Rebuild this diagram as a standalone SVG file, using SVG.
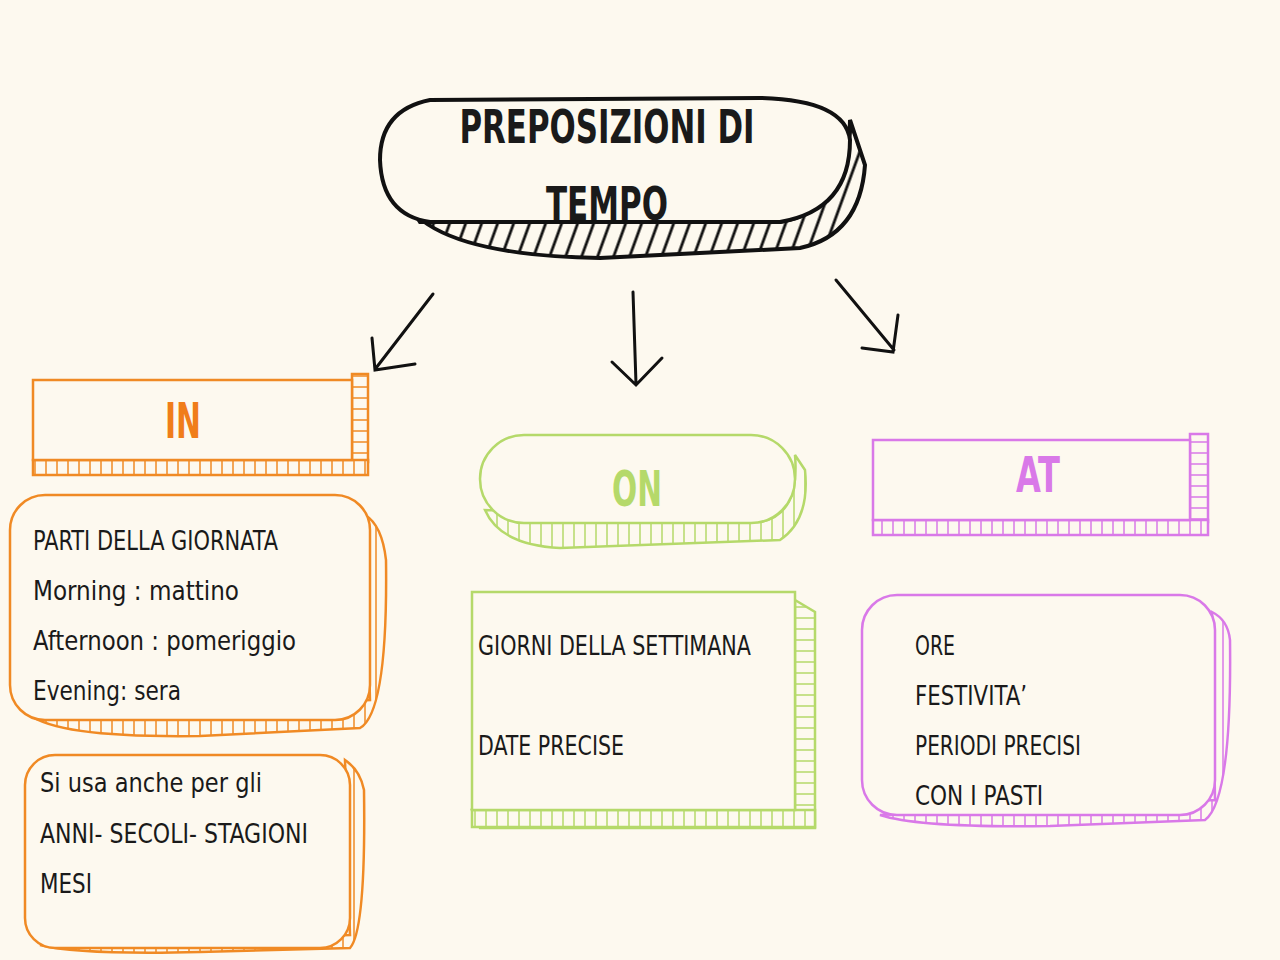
<svg xmlns="http://www.w3.org/2000/svg" width="1280" height="960" viewBox="0 0 1280 960">
<style>
.t{font-family:"DejaVu Sans Condensed","DejaVu Sans",sans-serif}
.k{fill:#1a1a1a;font-size:27px}
.h{font-weight:bold}
.o{stroke:#f08a24;stroke-width:2.5}
.g{stroke:#b5d96a;stroke-width:2.5}
.m{stroke:#d979e8;stroke-width:2.5}
.b{stroke:#111;stroke-width:4}
.a{stroke:#111;fill:none;stroke-width:3;stroke-linecap:round}
</style>
<defs>
<pattern id="hk" width="16" height="10" patternUnits="userSpaceOnUse" patternTransform="skewX(-20)"><rect width="16" height="10" fill="#fdf9ef"/><line x1="3" y1="0" x2="3" y2="10" stroke="#111" stroke-width="3"/></pattern>
<pattern id="ho" width="11" height="10" patternUnits="userSpaceOnUse"><rect width="11" height="10" fill="#fdf9ef"/><line x1="2" y1="0" x2="2" y2="10" stroke="#f08a24" stroke-width="1.5"/></pattern>
<pattern id="hg" width="11" height="10" patternUnits="userSpaceOnUse"><rect width="11" height="10" fill="#fdf9ef"/><line x1="2" y1="0" x2="2" y2="10" stroke="#b5d96a" stroke-width="1.5"/></pattern>
<pattern id="hm" width="11" height="10" patternUnits="userSpaceOnUse"><rect width="11" height="10" fill="#fdf9ef"/><line x1="2" y1="0" x2="2" y2="10" stroke="#d979e8" stroke-width="1.5"/></pattern>
<pattern id="hov" width="10" height="11" patternUnits="userSpaceOnUse"><rect width="10" height="11" fill="#fdf9ef"/><line x1="0" y1="2" x2="10" y2="2" stroke="#f08a24" stroke-width="1.5"/></pattern>
<pattern id="hgv" width="10" height="11" patternUnits="userSpaceOnUse"><rect width="10" height="11" fill="#fdf9ef"/><line x1="0" y1="2" x2="10" y2="2" stroke="#b5d96a" stroke-width="1.5"/></pattern>
<pattern id="hmv" width="10" height="11" patternUnits="userSpaceOnUse"><rect width="10" height="11" fill="#fdf9ef"/><line x1="0" y1="2" x2="10" y2="2" stroke="#d979e8" stroke-width="1.5"/></pattern>
</defs>
<rect width="1280" height="960" fill="#fdf9ef"/>
<g id="title">
<path d="M400 190 Q420 255 600 258 L800 248 Q860 235 865 165 L850 120 Q850 210 780 222 L420 222 Z" fill="url(#hk)" class="b"/>
<path d="M430 100 Q380 110 380 160 Q382 215 430 222 L780 222 Q850 210 850 140 Q845 100 760 98 Z" fill="#fdf9ef" class="b"/>
<text class="t h" x="607" y="143" text-anchor="middle" style="font-size:46px;fill:#1a1a1a" textLength="295" lengthAdjust="spacingAndGlyphs">PREPOSIZIONI DI</text>
<text class="t h" x="607" y="220" text-anchor="middle" style="font-size:46px;fill:#1a1a1a" textLength="122" lengthAdjust="spacingAndGlyphs">TEMPO</text>
</g>
<g id="connectors">
<path class="a" d="M433 294 L376 368 M372 338 L375 370 L415 364"/>
<path class="a" d="M633 292 L636 384 M612 362 L636 385 L662 358"/>
<path class="a" d="M836 280 L894 350 M898 315 L893 352 L862 348"/>
</g>
<g id="in">
<rect x="352" y="374" width="16" height="88" fill="url(#hov)" class="o"/>
<rect x="33" y="460" width="335" height="15" fill="url(#ho)" class="o"/>
<rect x="33" y="380" width="319" height="80" fill="#fdf9ef" class="o"/>
<text class="t h" x="183" y="438" text-anchor="middle" style="font-size:50px;fill:#f07d1a" textLength="36" lengthAdjust="spacingAndGlyphs">IN</text>
</g>
<g id="on">
<path d="M485 510 Q500 545 560 548 L780 540 Q810 520 805 470 L795 455 Q800 515 760 522 Z" fill="url(#hg)" class="g"/>
<rect x="480" y="435" width="315" height="88" rx="44" fill="#fdf9ef" class="g"/>
<text class="t h" x="637" y="506" text-anchor="middle" style="font-size:50px;fill:#b5d96a" textLength="50" lengthAdjust="spacingAndGlyphs">ON</text>
</g>
<g id="at">
<rect x="1190" y="434" width="18" height="88" fill="url(#hmv)" class="m"/>
<rect x="873" y="520" width="335" height="15" fill="url(#hm)" class="m"/>
<rect x="873" y="440" width="317" height="80" fill="#fdf9ef" class="m"/>
<text class="t h" x="1038" y="492" text-anchor="middle" style="font-size:50px;fill:#d979e8" textLength="44" lengthAdjust="spacingAndGlyphs">AT</text>
</g>
<g id="in-list">
<path d="M30 715 Q60 738 200 736 L360 728 Q388 712 386 560 Q382 525 365 515 L370 700 Z" fill="url(#ho)" class="o"/>
<rect x="10" y="495" width="360" height="225" rx="35" fill="#fdf9ef" class="o"/>
<text class="t k" x="33" y="550" textLength="245" lengthAdjust="spacingAndGlyphs">PARTI DELLA GIORNATA</text>
<text class="t k" x="33" y="600" textLength="206" lengthAdjust="spacingAndGlyphs">Morning : mattino</text>
<text class="t k" x="33" y="650" textLength="263" lengthAdjust="spacingAndGlyphs">Afternoon : pomeriggio</text>
<text class="t k" x="33" y="700" textLength="148" lengthAdjust="spacingAndGlyphs">Evening: sera</text>
</g>
<g id="in-extra">
<path d="M40 945 Q80 955 200 952 L350 948 Q366 930 364 790 Q360 770 345 760 L350 935 Z" fill="url(#ho)" class="o"/>
<rect x="25" y="755" width="325" height="193" rx="30" fill="#fdf9ef" class="o"/>
<text class="t k" x="40" y="792" textLength="222" lengthAdjust="spacingAndGlyphs">Si usa anche per gli</text>
<text class="t k" x="40" y="843" textLength="268" lengthAdjust="spacingAndGlyphs">ANNI- SECOLI- STAGIONI</text>
<text class="t k" x="40" y="893" textLength="52" lengthAdjust="spacingAndGlyphs">MESI</text>
</g>
<g id="on-list">
<path d="M795 600 L815 612 L815 828 L480 828 L472 810 L795 810 Z" fill="url(#hgv)" class="g"/>
<rect x="472" y="810" width="343" height="17" fill="url(#hg)" class="g"/>
<rect x="472" y="592" width="323" height="218" fill="#fdf9ef" class="g"/>
<text class="t k" x="478" y="655" textLength="273" lengthAdjust="spacingAndGlyphs">GIORNI DELLA SETTIMANA</text>
<text class="t k" x="478" y="755" textLength="146" lengthAdjust="spacingAndGlyphs">DATE PRECISE</text>
</g>
<g id="at-list">
<path d="M880 815 Q920 828 1050 826 L1205 820 Q1232 800 1230 640 Q1228 620 1212 612 L1215 800 Z" fill="url(#hm)" class="m"/>
<rect x="862" y="595" width="353" height="220" rx="35" fill="#fdf9ef" class="m"/>
<text class="t k" x="915" y="655" textLength="40" lengthAdjust="spacingAndGlyphs">ORE</text>
<text class="t k" x="915" y="705" textLength="112" lengthAdjust="spacingAndGlyphs">FESTIVITA’</text>
<text class="t k" x="915" y="755" textLength="166" lengthAdjust="spacingAndGlyphs">PERIODI PRECISI</text>
<text class="t k" x="915" y="805" textLength="128" lengthAdjust="spacingAndGlyphs">CON I PASTI</text>
</g>
</svg>
